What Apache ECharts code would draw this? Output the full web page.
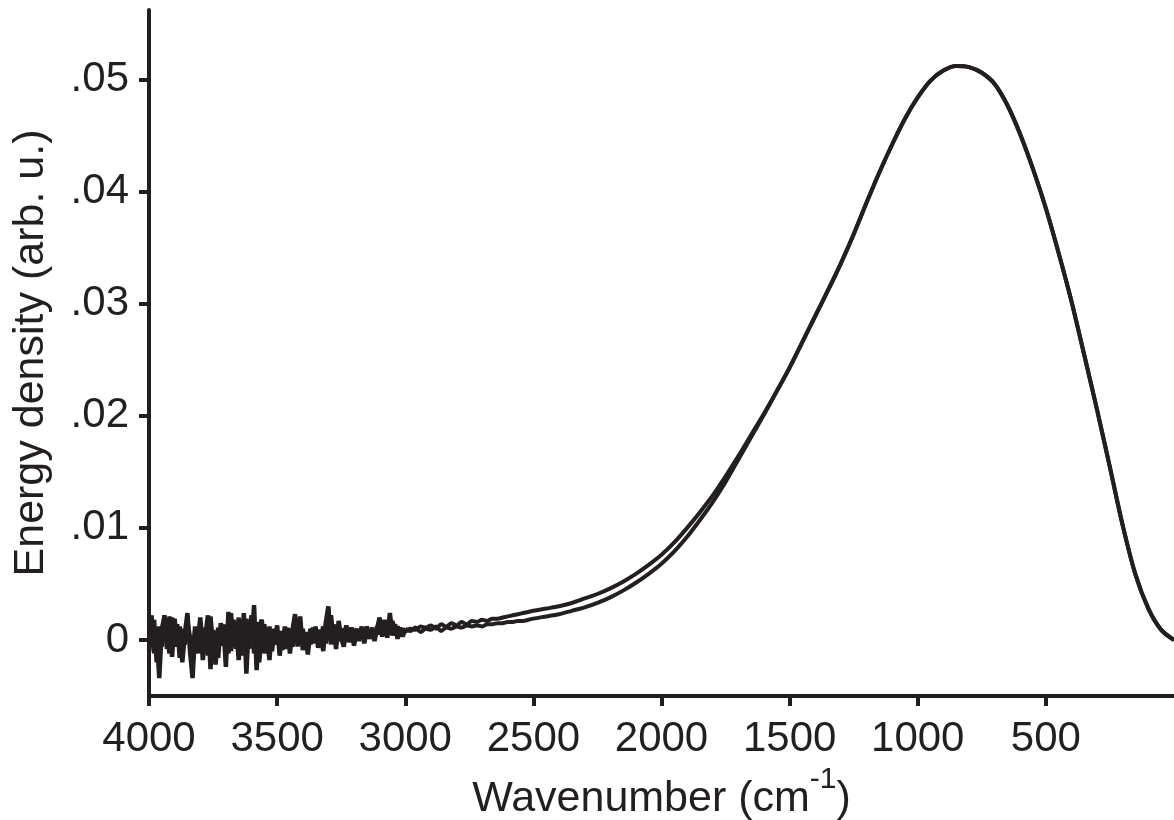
<!DOCTYPE html>
<html>
<head>
<meta charset="utf-8">
<script src="https://cdn.jsdelivr.net/npm/echarts@6/dist/echarts.min.js"></script>
<style>
  html, body { margin: 0; padding: 0; background: #ffffff; }
  #chart { width: 1174px; height: 820px; }
</style>
</head>
<body>
<div id="chart"></div>
<script>
// ---- Data ----
// Noisy region: wavenumbers 4000 -> 3000, every 10 cm-1
const noisyWavenumbers = [];
for (let w = 4000; w >= 3000; w -= 10) noisyWavenumbers.push(w);

const noisyA = [
  0.0008, 0.0022, -0.0012, 0.0005, -0.0034, 0.0010, 0.0020, -0.0008, 0.0021, -0.0015,
  0.0019, -0.0006, 0.0012, -0.0020, 0.0006, 0.0024, -0.0010, -0.0034, 0.0008, -0.0012,
  0.0015, -0.0018, 0.0004, 0.0022, -0.0026, 0.0009, -0.0022, 0.0011, -0.0005, 0.0014,
  -0.0024, 0.0025, -0.0010, 0.0018, -0.0008, 0.0020, -0.0014, 0.0024, -0.0030, 0.0016,
  -0.0006, 0.0031, -0.0027, 0.0012, 0.0018, -0.0012, 0.0008, -0.0018, 0.0010, -0.0004,
  0.0013, -0.0014, 0.0006, -0.0008, 0.0011, -0.0012, 0.0009, 0.0023, -0.0006, 0.0021,
  -0.0009, 0.0004, -0.0013, 0.0010, -0.0003, 0.0012, -0.0007, 0.0008, -0.0010, 0.0016,
  0.0030, -0.0004, 0.0014, -0.0008, 0.0017, 0.0002, -0.0006, 0.0010, -0.0002, 0.0009,
  -0.0005, 0.0008, 0.0001, 0.0012, -0.0003, 0.0009, 0.0002, 0.0011, -0.0001, 0.0010,
  0.0020, 0.0003, 0.0018, 0.0002, 0.0024, 0.0004, 0.0014, 0.0001, 0.0011, 0.0003,
  0.0010
];
const noisyB = [
  -0.0010, 0.0005, 0.0018, -0.0020, 0.0012, -0.0006, 0.0022, 0.0003, -0.0012, 0.0020,
  0.0002, 0.0014, -0.0016, 0.0010, -0.0004, 0.0016, 0.0002, -0.0018, 0.0012, -0.0004,
  0.0020, -0.0008, 0.0011, -0.0014, 0.0021, -0.0006, 0.0008, -0.0016, 0.0015, -0.0002,
  0.0010, -0.0012, 0.0024, -0.0006, 0.0013, -0.0018, 0.0010, -0.0004, 0.0019, -0.0008,
  0.0022, -0.0012, 0.0016, -0.0020, 0.0004, 0.0014, -0.0007, 0.0012, -0.0010, 0.0009,
  -0.0004, 0.0008, -0.0009, 0.0012, -0.0002, 0.0010, -0.0006, 0.0008, 0.0018, -0.0002,
  0.0010, -0.0006, 0.0007, -0.0004, 0.0011, -0.0002, 0.0009, 0.0001, 0.0012, -0.0003,
  0.0008, 0.0022, 0.0002, 0.0012, -0.0001, 0.0010, 0.0003, 0.0013, 0.0001, 0.0011,
  0.0004, 0.0010, -0.0001, 0.0009, 0.0004, 0.0012, 0.0001, 0.0008, 0.0003, 0.0012,
  0.0005, 0.0014, 0.0004, 0.0010, 0.0006, 0.0017, 0.0005, 0.0012, 0.0006, 0.0010,
  0.0007
];

// Smooth region: wavenumbers 3000 -> 0
const smoothWavenumbers = [
  3000, 2980, 2960, 2940, 2920, 2900, 2880, 2860, 2840, 2820, 2800,
  2780, 2760, 2740, 2720, 2700, 2680, 2660, 2640, 2620, 2600,
  2580, 2560, 2540, 2520, 2500, 2450, 2400, 2350, 2300, 2250,
  2200, 2150, 2100, 2050, 2000, 1950, 1900, 1850, 1800, 1750,
  1700, 1650, 1600, 1550, 1500, 1450, 1400, 1350, 1300, 1250,
  1200, 1150, 1100, 1050, 1000, 950, 900, 850, 800, 750,
  700, 650, 600, 550, 500, 450, 400, 350, 300, 250,
  200, 150, 100, 50, 0
];
const smoothA = [
  0.0010, 0.0008, 0.0011, 0.0007, 0.0010, 0.0009, 0.0012, 0.0008, 0.0011, 0.0010, 0.0012,
  0.0011, 0.0013, 0.0012, 0.0013, 0.0012, 0.0014, 0.0014, 0.0015, 0.0015, 0.0016,
  0.0016, 0.0017, 0.0017, 0.0018, 0.0019, 0.0021, 0.0023, 0.0026, 0.0029, 0.0033,
  0.0038, 0.0044, 0.0051, 0.0059, 0.0068, 0.0079, 0.0092, 0.0107, 0.0123, 0.0141,
  0.0161, 0.0181, 0.0201, 0.0222, 0.0243, 0.0266, 0.0289, 0.0312, 0.0336, 0.0362,
  0.0390, 0.0417, 0.0442, 0.0465, 0.0484, 0.0499, 0.0508, 0.0512, 0.0511, 0.0506,
  0.0496, 0.0477, 0.0451, 0.0420, 0.0385, 0.0345, 0.0302, 0.0254, 0.0205, 0.0154,
  0.0102, 0.0058, 0.0028, 0.0009, 0.0000
];
const smoothB = [
  0.0007, 0.0010, 0.0009, 0.0012, 0.0011, 0.0013, 0.0010, 0.0014, 0.0012, 0.0015, 0.0013,
  0.0016, 0.0014, 0.0017, 0.0016, 0.0018, 0.0017, 0.0019, 0.0019, 0.0020, 0.0021,
  0.0022, 0.0023, 0.0024, 0.0025, 0.0026, 0.0028, 0.0030, 0.0033, 0.0037, 0.0041,
  0.0046, 0.0052, 0.0059, 0.0067, 0.0076, 0.0087, 0.0100, 0.0114, 0.0129, 0.0146,
  0.0164, 0.0183, 0.0202, 0.0222, 0.0243, 0.0266, 0.0289, 0.0312, 0.0336, 0.0362,
  0.0390, 0.0417, 0.0442, 0.0465, 0.0484, 0.0499, 0.0508, 0.0512, 0.0511, 0.0506,
  0.0496, 0.0477, 0.0451, 0.0420, 0.0385, 0.0345, 0.0302, 0.0254, 0.0205, 0.0154,
  0.0102, 0.0058, 0.0028, 0.0009, 0.0000
];

const xTickValues = [4000, 3500, 3000, 2500, 2000, 1500, 1000, 500];
const yTickValues = [0, 0.01, 0.02, 0.03, 0.04, 0.05];

// ---- Build series data ----
function pairs(ws, vs) { return ws.map((w, i) => [w, vs[i]]); }

const INK = '#231f20';
const FONT = '"Liberation Sans", Arial, Helvetica, sans-serif';

function lineSeries(data, smooth, width) {
  return {
    type: 'line', data: data, showSymbol: false, symbol: 'none',
    smooth: smooth ? 0.3 : false,
    lineStyle: { color: INK, width: width }, z: 2
  };
}

const chart = echarts.init(document.getElementById('chart'), null, { renderer: 'canvas' });
chart.setOption({
  animation: false,
  backgroundColor: '#ffffff',
  grid: { left: 149, right: 0, top: 10, bottom: 124, containLabel: false, outerBoundsMode: 'none' },
  xAxis: {
    type: 'value',
    min: 0,
    max: 4000,
    inverse: true,
    position: 'bottom',
    axisLine: { onZero: false, lineStyle: { color: INK, width: 4 } },
    axisTick: { show: true, length: 10, inside: false, customValues: xTickValues,
                lineStyle: { color: INK, width: 4 } },
    axisLabel: { customValues: xTickValues, margin: 22, color: INK,
                 fontSize: 42, fontFamily: FONT,
                 formatter: function (v) { return String(v); } },
    splitLine: { show: false },
    name: '{a|Wavenumber (cm}{s|-1}{a|)}',
    nameLocation: 'middle',
    nameGap: 66,
    nameTextStyle: {
      color: INK,
      fontFamily: FONT,
      rich: {
        a: { fontSize: 43, fontFamily: FONT, color: INK, lineHeight: 56, verticalAlign: 'bottom' },
        s: { fontSize: 30, fontFamily: FONT, color: INK, lineHeight: 30, verticalAlign: 'top' }
      }
    }
  },
  yAxis: {
    type: 'value',
    min: -0.005,
    max: 0.0562,
    axisLine: { onZero: false, lineStyle: { color: INK, width: 4 } },
    axisTick: { show: true, length: 10, inside: false, customValues: yTickValues,
                lineStyle: { color: INK, width: 4 } },
    axisLabel: {
      customValues: yTickValues, margin: 20, color: INK, fontSize: 42, fontFamily: FONT,
      formatter: function (v) { return v === 0 ? '0' : v.toFixed(2).replace(/^0/, ''); }
    },
    splitLine: { show: false },
    name: 'Energy density (arb. u.)',
    nameLocation: 'middle',
    nameGap: 96,
    nameTextStyle: { color: INK, fontSize: 43, fontFamily: FONT }
  },
  series: [
    lineSeries(pairs(noisyWavenumbers, noisyA), false, 4.5),
    lineSeries(pairs(noisyWavenumbers, noisyB), false, 4.5),
    lineSeries(pairs(smoothWavenumbers, smoothA), true, 4),
    lineSeries(pairs(smoothWavenumbers, smoothB), true, 4)
  ]
});
</script>
</body>
</html>
